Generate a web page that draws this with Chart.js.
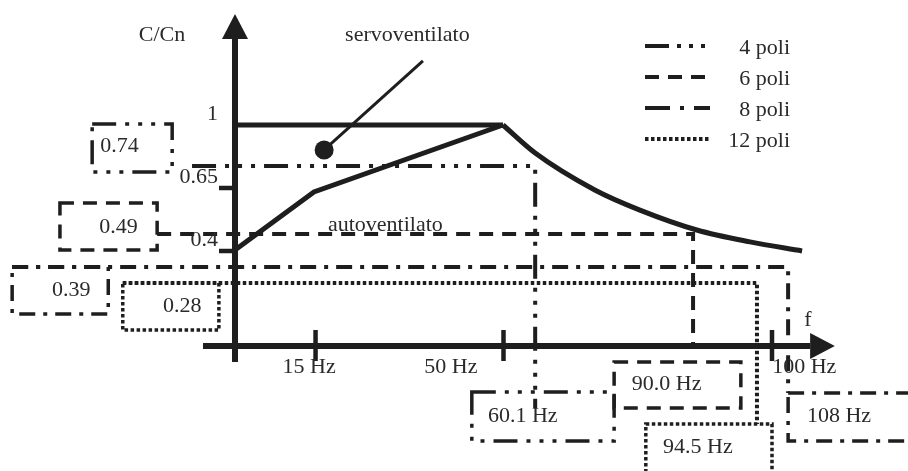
<!DOCTYPE html>
<html>
<head>
<meta charset="utf-8">
<script src="https://cdn.jsdelivr.net/npm/chart.js@4.4.1/dist/chart.umd.min.js"></script>
<style>
  body { margin: 0; background: #fff; }
  canvas { display: block; }
</style>
</head>
<body>
<canvas id="myChart" width="908" height="471"></canvas>
<script>
// values (x in Hz, y in C/Cn)
const poleLabels = ['4 poli', '6 poli', '8 poli', '12 poli'];
const poleLevel = [0.815, 0.507, 0.357, 0.285];
const poleStartHz = [-8.0, -14.5, -41.5, -20.9];
const poleCutHz = [55.9, 85.3, 103.0, 97.2];
const poleEndLevel = [-0.281, 0, -0.213, -0.353];
const levelLabels = ['0.74', '0.49', '0.39', '0.28'];
const cutLabels = ['60.1 Hz', '90.0 Hz', '108 Hz', '94.5 Hz'];

const autoHz = [0, 14.7, 49.9];
const autoC = [0.434, 0.697, 1.0];
const servoHz = [0, 49.9, 55.9, 67.0, 75.4, 86.0, 95.9, 105.6];
const servoC = [1.0, 1.0, 0.873, 0.706, 0.615, 0.525, 0.471, 0.430];

const pointerHz = [16.6, 35.0];
const pointerC = [0.887, 1.290];

const xTickHz = [15, 50, 100];
const xTickLabels = ['15 Hz', '50 Hz', '100 Hz'];
const yTickValues = [1.0, 0.715, 0.430];
const yTickLabels = ['1', '0.65', '0.4'];

const ink = '#1e1e1e';
const font = '22px "Liberation Serif", "Times New Roman", serif';
const dashes = [[24, 9, 4, 9, 4, 9, 4, 9], [14, 9], [16, 8, 4, 8], [3.5, 2.5]];

function pts(xs, ys) {
  return xs.map((x, i) => ({ x: x, y: ys[i] }));
}

const datasets = [];
poleLabels.forEach((name, i) => {
  datasets.push({
    label: name,
    data: [
      { x: poleStartHz[i], y: poleLevel[i] },
      { x: poleCutHz[i], y: poleLevel[i] },
      { x: poleCutHz[i], y: poleEndLevel[i] }
    ],
    borderColor: ink,
    borderWidth: 4,
    borderDash: dashes[i],
    pointRadius: 0,
    fill: false
  });
});
datasets.push({
  label: 'autoventilato',
  data: pts(autoHz, autoC),
  borderColor: ink, borderWidth: 5, pointRadius: 0, borderJoinStyle: 'miter'
});
datasets.push({
  label: 'servoventilato',
  data: pts(servoHz.slice(0, 2), servoC.slice(0, 2)),
  borderColor: ink, borderWidth: 5, pointRadius: 0
});
datasets.push({
  label: 'servoventilato (f > 50 Hz)',
  data: pts(servoHz.slice(1), servoC.slice(1)),
  borderColor: ink, borderWidth: 5, pointRadius: 0, cubicInterpolationMode: 'monotone'
});
datasets.push({
  label: 'pointer',
  data: pts(pointerHz, pointerC),
  borderColor: ink, borderWidth: 3,
  pointRadius: [9.5, 0], pointBackgroundColor: ink, pointBorderWidth: 0
});

// boxes: [x0, x1, y0, y1, textX, textY] in data units
const levelBoxes = [
  [-26.6, -11.7, 1.005, 0.787, -25.1, 0.905],
  [-32.6, -14.5, 0.647, 0.434, -25.3, 0.538],
  [-41.5, -23.6, 0.357, 0.145, -34.1, 0.253],
  [-20.9, -3.0, 0.285, 0.072, -13.4, 0.181]
];
const cutBoxes = [
  [44.1, 70.6, -0.208, -0.430, 47.1, -0.317],
  [70.6, 94.2, -0.072, -0.281, 73.9, -0.172],
  [103.0, 126.1, -0.213, -0.430, 106.5, -0.317],
  [76.5, 100.0, -0.353, -0.584, 79.7, -0.457]
];

const decorations = {
  id: 'decorations',
  afterDatasetsDraw(chart) {
    const ctx = chart.ctx;
    const X = v => chart.scales.x.getPixelForValue(v);
    const Y = v => chart.scales.y.getPixelForValue(v);
    ctx.save();
    ctx.strokeStyle = ink;
    ctx.fillStyle = ink;

    // axes
    ctx.lineWidth = 6;
    ctx.beginPath();
    ctx.moveTo(X(0), Y(-0.072));
    ctx.lineTo(X(0), Y(1.389));
    ctx.moveTo(X(-5.96), Y(0));
    ctx.lineTo(X(107.1), Y(0));
    ctx.stroke();
    ctx.beginPath();
    ctx.moveTo(X(0), Y(1.502));
    ctx.lineTo(X(0) - 13, Y(1.389));
    ctx.lineTo(X(0) + 13, Y(1.389));
    ctx.closePath();
    ctx.fill();
    ctx.beginPath();
    ctx.moveTo(X(111.7), Y(0));
    ctx.lineTo(X(107.1), Y(0) - 13);
    ctx.lineTo(X(107.1), Y(0) + 13);
    ctx.closePath();
    ctx.fill();

    // tick marks
    ctx.lineWidth = 4.5;
    ctx.beginPath();
    xTickHz.forEach(v => {
      ctx.moveTo(X(v), Y(0) - 16);
      ctx.lineTo(X(v), Y(0) + 15);
    });
    yTickValues.slice(1).forEach(v => {
      ctx.moveTo(X(0) - 16, Y(v));
      ctx.lineTo(X(0), Y(v));
    });
    ctx.stroke();

    ctx.font = font;
    ctx.textBaseline = 'middle';
    ctx.fillStyle = '#2a2a2a';

    // tick labels
    ctx.textAlign = 'right';
    yTickValues.forEach((v, i) => ctx.fillText(yTickLabels[i], X(0) - 17, Y(v) - 10.5));
    ctx.textAlign = 'center';
    const xLabelHz = [13.8, 40.2, 106.0];
    xTickLabels.forEach((t, i) => ctx.fillText(t, X(xLabelHz[i]), Y(-0.095)));
    ctx.fillText('C/Cn', X(-13.6), Y(1.407));

    ctx.textAlign = 'left';
    ctx.fillText('servoventilato', X(20.5), Y(1.407));
    ctx.fillText('autoventilato', X(17.3), Y(0.548));
    ctx.fillText('f', X(106.0), Y(0.118));

    // value boxes
    const drawBox = (b, style, text) => {
      ctx.save();
      ctx.lineWidth = 3.5;
      ctx.setLineDash(style);
      ctx.strokeRect(X(b[0]), Y(b[2]), X(b[1]) - X(b[0]), Y(b[3]) - Y(b[2]));
      ctx.restore();
      ctx.fillText(text, X(b[4]), Y(b[5]));
    };
    levelBoxes.forEach((b, i) => drawBox(b, dashes[i], levelLabels[i]));
    cutBoxes.forEach((b, i) => drawBox(b, dashes[i], cutLabels[i]));

    // legend
    const legendY = [46, 77, 108, 139];
    const legendDash = [[24, 8, 4, 8, 4, 8, 4, 8], [14, 9], [25, 10, 4, 10], [3.5, 2.5]];
    poleLabels.forEach((name, i) => {
      ctx.save();
      ctx.lineWidth = 4;
      ctx.setLineDash(legendDash[i]);
      ctx.beginPath();
      ctx.moveTo(645, legendY[i]);
      ctx.lineTo(710, legendY[i]);
      ctx.stroke();
      ctx.restore();
      ctx.textAlign = 'right';
      ctx.fillText(name, 790, legendY[i] + 2);
    });
    ctx.restore();
  }
};

const ctx = document.getElementById('myChart').getContext('2d');
const myChart = new Chart(ctx, {
  type: 'line',
  data: { datasets: datasets },
  options: {
    responsive: false,
    animation: false,
    layout: { padding: 0, autoPadding: false },
    plugins: { legend: { display: false }, tooltip: { enabled: false } },
    scales: {
      x: { type: 'linear', display: false, min: -235 / 5.37, max: 673 / 5.37 },
      y: { type: 'linear', display: false, min: -125 / 221, max: 346 / 221 }
    }
  },
  plugins: [decorations]
});
</script>
</body>
</html>
